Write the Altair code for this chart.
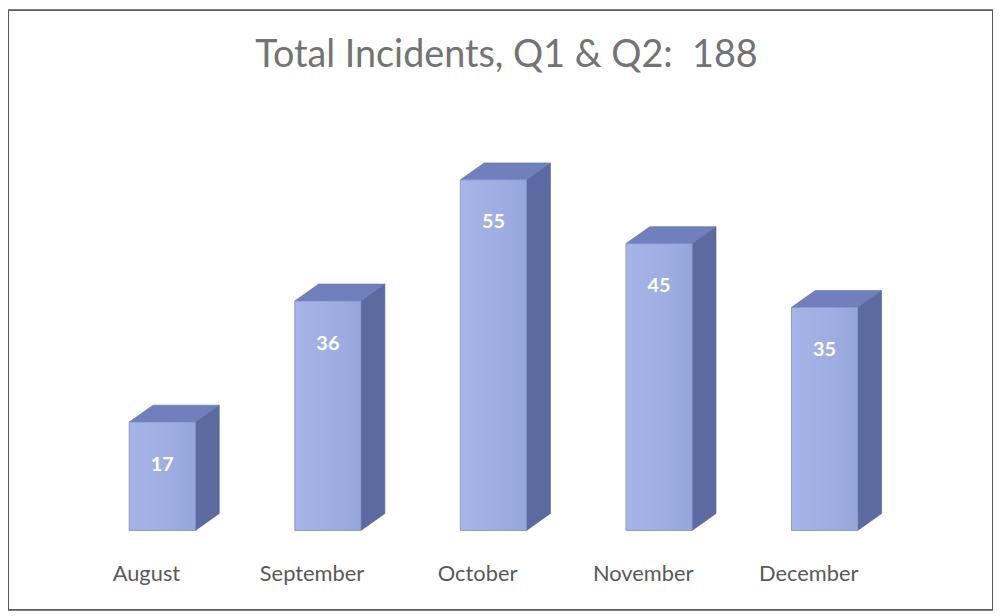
import altair as alt
import pandas as pd

months = ["August", "September", "October", "November", "December"]
values = [17, 36, 55, 45, 35]
title_text = "Total Incidents, Q1 & Q2:\u00a0 188"

HALF = 0.2      # half width of front face (category units)
DX = 0.144      # depth offset, category units
DV = 2.65       # depth offset, value units

idx = list(range(len(months)))
front = pd.DataFrame({"month": months, "i": idx, "v": values})
front["x0"] = front["i"] - HALF
front["x1"] = front["i"] + HALF
front["zero"] = 0
front["lab_y"] = -6.85

top_rows, side_rows = [], []
for m, i, v in zip(months, idx, values):
    top_rows.append({"month": m, "y": v, "xl": i - HALF, "xr": i + HALF})
    top_rows.append({"month": m, "y": v + DV, "xl": i - HALF + DX, "xr": i + HALF + DX})
    side_rows.append({"month": m, "x": i + HALF, "y0": 0, "y1": v})
    side_rows.append({"month": m, "x": i + HALF + DX, "y0": DV, "y1": v + DV})
top = pd.DataFrame(top_rows)
side = pd.DataFrame(side_rows)

xs = alt.Scale(domain=[-0.932, 5.017], nice=False, zero=False)
ys = alt.Scale(domain=[-12.46, 81.62], nice=False, zero=False)

side_ch = alt.Chart(side).mark_area(color="#5b6aa1", stroke="#505e95", strokeWidth=0.6).encode(
    x=alt.X("x:Q", scale=xs, axis=None),
    y=alt.Y("y0:Q", scale=ys, axis=None),
    y2="y1:Q",
    detail="month:N",
)

top_ch = alt.Chart(top).mark_area(orient="horizontal", color="#6f80bd", stroke="#6070ab", strokeWidth=0.6).encode(
    y=alt.Y("y:Q", scale=ys, axis=None),
    x=alt.X("xl:Q", scale=xs, axis=None),
    x2="xr:Q",
    detail="month:N",
)

front_ch = alt.Chart(front).mark_bar(
    color=alt.Gradient(
        gradient="linear", x1=0, x2=1, y1=0, y2=0,
        stops=[alt.GradientStop(color="#a6b5e8", offset=0),
               alt.GradientStop(color="#9eaee2", offset=0.6),
               alt.GradientStop(color="#95a6db", offset=1)],
    ),
    stroke="#7e8fc8", strokeWidth=0.8,
).encode(
    x=alt.X("x0:Q", scale=xs, axis=None),
    x2="x1:Q",
    y=alt.Y("zero:Q", scale=ys, axis=None),
    y2="v:Q",
)

val_ch = alt.Chart(front).mark_text(
    font="Lato", fontSize=20, fontWeight="bold", color="white", dy=43, baseline="middle"
).encode(
    x=alt.X("i:Q", scale=xs, axis=None),
    y=alt.Y("v:Q", scale=ys, axis=None),
    text="v:Q",
)

month_ch = alt.Chart(front).mark_text(
    font="Lato", fontSize=22, color="#595959", dx=-16, baseline="middle"
).encode(
    x=alt.X("i:Q", scale=xs, axis=None),
    y=alt.Y("lab_y:Q", scale=ys, axis=None),
    text="month:N",
)

title_ch = alt.Chart(pd.DataFrame({"t": [title_text]})).mark_text(
    font="Lato", fontSize=38, color="#737373", baseline="middle"
).encode(
    x=alt.value(502),
    y=alt.value(46),
    text="t:N",
)

chart = alt.layer(side_ch, top_ch, front_ch, val_ch, month_ch, title_ch).properties(
    width=992, height=604, padding=0, background="white"
).configure_view(stroke="#595959", strokeWidth=2)

chart.save("out.html", embed_options={"renderer": "svg", "actions": False})
